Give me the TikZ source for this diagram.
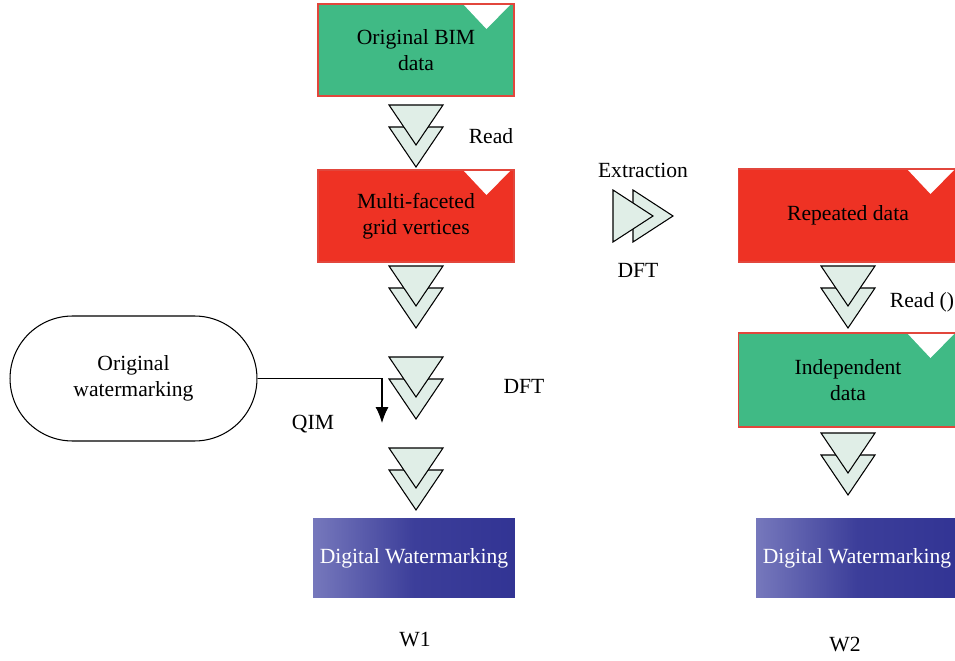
\documentclass[tikz,border=0pt]{standalone}
\usepackage{fontspec}
\setmainfont{Liberation Serif}
\usetikzlibrary{arrows.meta,positioning}
\usepackage{xcolor}

\definecolor{boxgreen}{RGB}{64,186,133}
\definecolor{boxred}{RGB}{238,50,36}
\definecolor{edgered}{RGB}{226,70,60}
\definecolor{trifill}{RGB}{224,238,231}
\definecolor{wmdark}{RGB}{50,52,148}
\definecolor{wmlight}{RGB}{118,120,188}

\tikzset{
  databox/.style={draw=edgered, line width=0.6pt, minimum width=3.92cm, minimum height=1.84cm,
    align=center, font=\fontsize{12.3}{14.8}\selectfont,
    path picture={\fill[white] ([xshift=-1.02cm]path picture bounding box.north east)
      -- ([xshift=-0.06cm]path picture bounding box.north east)
      -- ([xshift=-0.55cm,yshift=-0.5cm]path picture bounding box.north east) -- cycle;}},
  wmbox/.style={minimum width=4.04cm, minimum height=1.6cm, text=white,
    left color=wmlight, right color=wmdark, middle color=wmdark!85!wmlight,
    font=\fontsize{12.3}{14.8}\selectfont},
  lbl/.style={font=\fontsize{12.3}{14.8}\selectfont},
  tri/.style={draw=black, fill=trifill, line width=0.6pt, line join=miter},
  dbldown/.pic={
    \draw[tri] (-27,22) -- (27,22) -- (0,62) -- cycle;
    \draw[tri] (-27,0) -- (27,0) -- (0,40) -- cycle;},
  dblright/.pic={
    \draw[tri] (20,-26) -- (20,26) -- (60,0) -- cycle;
    \draw[tri] (0,-26) -- (0,26) -- (40,0) -- cycle;}
}

\begin{document}
\begin{tikzpicture}[x=0.02cm,y=-0.02cm,>={Latex[length=3.2mm,width=2.6mm]}]
  \useasboundingbox (0,0) rectangle (955,661);

  % Embedding side (W1)
  \node (bim)  [databox, fill=boxgreen] at (416,50) {Original BIM\\data};
  \node (grid) [databox, fill=boxred] at (416,216) {Multi-faceted\\grid vertices};
  \node (wm1)  [wmbox] at (414,558) {Digital Watermarking};
  \node (orig) [draw, line width=0.6pt, rounded corners=1.25cm, minimum width=4.94cm,
    minimum height=2.5cm, align=center, lbl] at (133.5,378.5) {Original\\watermarking};

  \pic at (416,105) {dbldown};
  \pic at (416,266) {dbldown};
  \pic at (416,357) {dbldown};
  \pic at (416,448) {dbldown};

  \node (read1) [lbl] at (491,136) {Read};
  \node (dft1)  [lbl] at (524,386) {DFT};
  \node (qim)   [lbl] at (313,424) {QIM};
  \node (w1)    [lbl] at (415,640) {W1};

  % QIM insertion
  \coordinate (qimend) at (382,423);
  \draw[->, line width=0.6pt] (orig.east) -| (qimend);

  % Extraction step
  \pic at (613,216) {dblright};
  \node (extract) [lbl] at (643,170) {Extraction};
  \node (dft2)    [lbl] at (638,270) {DFT};

  % Extraction side (W2)
  \node (repeat) [databox, fill=boxred, minimum width=4.4cm, minimum height=1.86cm] at (848,215.5) {Repeated data};
  \node (indep)  [databox, fill=boxgreen, minimum width=4.4cm, minimum height=1.88cm] at (848,380) {Independent\\data};
  \node (wm2)    [wmbox] at (857,558) {Digital Watermarking};

  \pic at (848,266) {dbldown};
  \pic at (848,433) {dbldown};

  \node (read2) [lbl] at (922,302) {Read ()};
  \node (w2)    [lbl] at (845,645) {W2};
\end{tikzpicture}
\end{document}
